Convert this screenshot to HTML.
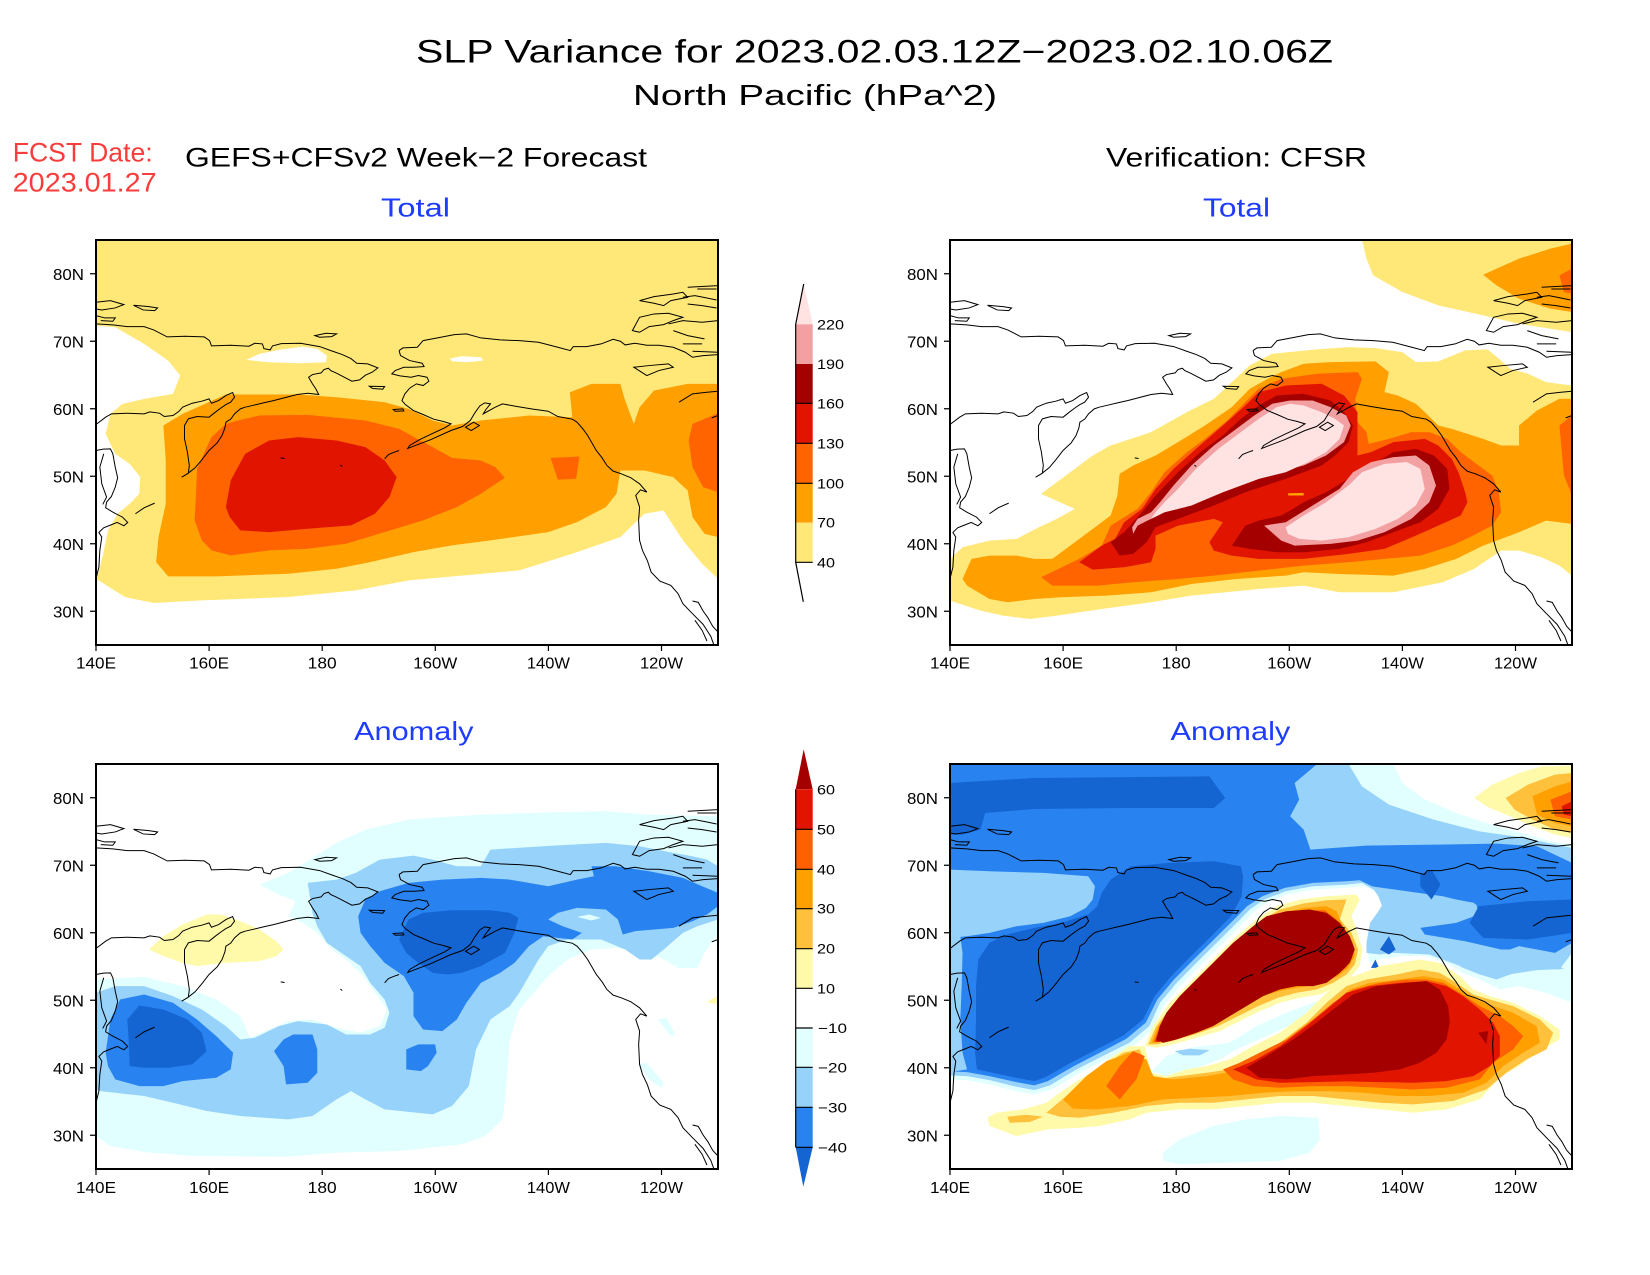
<!DOCTYPE html>
<html><head><meta charset="utf-8"><style>
html,body{margin:0;padding:0;background:#fff;}
svg{display:block;}
text{font-family:"Liberation Sans",sans-serif;}
</style></head><body>
<svg width="1650" height="1275" viewBox="0 0 1650 1275" xmlns="http://www.w3.org/2000/svg" xmlns:xlink="http://www.w3.org/1999/xlink">
<defs>
<g id="coast" fill="none" stroke="#000">
<path vector-effect="non-scaling-stroke" d="M200,310 L235,313 L265,318 L300,318 L320,328 L348,349 L385,347 L425,349 L436,360 L440,376 L480,374 L518,377 L530,368 L546,370 L549,384 L562,388 L567,376 L585,369 L625,368 L665,378 L692,392 L712,402 L730,414 L742,428 L765,430 L786,442 L774,455 L760,464 L748,478 L732,482 L716,470 L700,458 L688,450 L683,443 L674,447 L668,457 L650,462 L642,470 L650,490 L657,505 L663,522 L640,518 L618,522 L596,530 L570,540 L548,547 L528,554 L510,560"/>
<path vector-effect="non-scaling-stroke" d="M200,612 L220,590 L232,580 L265,578 L300,580 L312,574 L332,578 L342,588 L360,585 L372,573 L380,560 L400,548 L420,542 L435,535 L440,548 L455,540 L470,525 L484,516 L488,530 L480,545 L470,552 L460,562 L448,575 L435,590 L410,588 L392,595 L384,615 L384,655 L390,695 L394,735 L392,758 L378,770 L390,760 L406,742 L420,718 L435,690 L452,667 L462,645 L468,622 L470,605 L480,596 L488,580 L500,565 L510,560"/>
<path vector-effect="non-scaling-stroke" d="M200,690 L215,686 L230,685 L235,700 L240,740 L245,772 L240,800 L232,828 L222,845 L220,862 L236,876 L255,890 L266,906 L258,916 L244,906 L230,914 L216,922 L206,936 L212,950 L208,990 L206,1040 L200,1075"/>
<path vector-effect="non-scaling-stroke" d="M216,700 L208,740 L212,790 L222,830 L214,852"/>
<path vector-effect="non-scaling-stroke" d="M282,880 L300,862 L322,848"/>
<path vector-effect="non-scaling-stroke" d="M800,715 L808,702 L820,695 L830,690"/>
<path vector-effect="non-scaling-stroke" d="M584,712 L592,714 M708,734 L712,738"/>
<path vector-effect="non-scaling-stroke" d="M830,390 L838,382 L868,380 L880,360 L910,352 L945,342 L970,340 L1000,352 L1040,358 L1080,360 L1120,365 L1160,380 L1186,390 L1192,378 L1220,378 L1250,370 L1275,356 L1290,362 L1300,373 L1320,368 L1345,374 L1370,374 L1400,380 L1425,395 L1440,410 L1462,405 L1493,402"/>
<path vector-effect="non-scaling-stroke" d="M830,390 L833,405 L852,420 L878,428 L882,438 L860,440 L840,440 L822,450 L815,460 L832,466 L855,470 L870,465 L888,470 L892,482 L880,495 L866,490 L852,503 L842,520 L836,540 L843,552 L860,570 L880,582 L902,596 L922,603 L938,610 L925,622 L898,640 L872,658 L852,675 L848,684 L862,676 L895,658 L938,630 L962,618 L978,600 L988,576 L998,556 L1008,547 L1020,550 L1010,568 L1005,580 L1030,560 L1045,550 L1075,558 L1110,566 L1140,572 L1160,588 L1190,596 L1200,605 L1212,625 L1222,645 L1230,665 L1240,690 L1252,712 L1262,735 L1275,752 L1292,760 L1312,772 L1330,790 L1345,815 L1332,808 L1322,825 L1330,860 L1328,900 L1330,960 L1336,990 L1346,1020 L1354,1055 L1372,1082 L1395,1095 L1410,1120 L1420,1150 L1440,1180 L1462,1212 L1478,1248 L1484,1272"/>
<path vector-effect="non-scaling-stroke" d="M1440,1142 L1452,1146 L1462,1172 L1472,1192 L1482,1218 L1493,1235 M1445,1200 L1460,1230 L1470,1262"/>
<path vector-effect="non-scaling-stroke" d="M768,497 L800,498 L796,506 L775,504 Z M818,567 L838,565 L840,571 L822,572 Z M968,620 L985,605 L997,615 L980,630 Z M655,345 L678,338 L700,340 L690,348 L665,350 Z"/>
<path vector-effect="non-scaling-stroke" d="M1330,240 L1360,228 L1400,220 L1420,215 L1430,230 L1395,240 L1380,255 L1360,248 Z M1420,230 L1445,225 L1470,232 L1490,238 M1430,250 L1460,255 L1490,262 M1450,205 L1490,205 M1430,200 L1493,195"/>
<path vector-effect="non-scaling-stroke" d="M1315,330 L1330,290 L1360,280 L1390,278 L1420,290 L1400,300 L1380,312 L1350,318 L1330,335 Z M1390,310 L1420,300 L1460,305 L1493,300 M1400,330 L1430,345 L1465,355 M1420,370 L1460,370 M1440,392 L1493,395"/>
<path vector-effect="non-scaling-stroke" d="M1318,440 L1350,435 L1390,430 L1400,440 L1370,450 L1345,465 Z M1412,545 L1440,520 L1470,515 L1493,512 M1480,592 L1493,585"/>
<path vector-effect="non-scaling-stroke" d="M200,245 L230,240 L258,252 L240,262 L212,268 L200,265 M278,254 L310,258 L328,262 L322,270 L298,268 Z M200,285 L218,292 L240,292 L235,302 L210,300"/>
</g>
</defs>
<rect width="1650" height="1275" fill="#fff"/>

<!-- ============ P1 Forecast Total ============ -->
<svg x="96" y="240" width="622" height="405" viewBox="200 58 1293 1216" preserveAspectRatio="none">
<rect x="200" y="58" width="1293" height="1216" fill="#fff"/>
<polygon fill="#ffe878" points="200,58 1493,58 1493,1075 1460,1030 1420,960 1380,870 1340,880 1290,950 1190,1000 1080,1050 850,1080 740,1110 600,1130 420,1140 320,1148 260,1130 200,1075"/>
<polygon fill="#fff" points="200,315 240,320 300,370 350,420 375,465 360,520 300,535 255,550 230,580 220,640 240,700 270,730 292,770 290,820 270,850 245,880 225,930 215,1000 205,1060 200,1070"/>
<polygon fill="#fff" points="512,418 540,400 580,388 630,378 660,385 680,405 678,425 620,428 560,425"/>
<polygon fill="#fff" points="935,414 960,407 1000,410 1005,420 970,425 940,422"/>
<polygon fill="#ffa000" points="340,615 380,580 470,522 620,522 700,530 800,545 850,565 900,600 940,615 1000,600 1100,585 1190,590 1185,515 1230,490 1290,490 1300,540 1318,610 1330,560 1360,510 1430,490 1493,490 1493,950 1465,940 1440,890 1430,810 1400,770 1340,750 1290,750 1282,820 1260,860 1200,905 1140,935 1020,960 940,975 860,995 770,1025 700,1045 600,1060 450,1068 350,1068 325,1025 330,950 345,850 345,720"/>
<polygon fill="#ff6400" points="410,745 440,650 470,610 500,598 540,585 640,583 760,600 830,625 900,680 940,712 1000,720 1030,740 1050,772 1000,820 950,860 880,900 800,935 720,970 640,985 560,990 480,1005 440,990 420,960 405,900 408,820"/>
<polygon fill="#ff6400" points="1440,610 1493,578 1493,815 1462,800 1440,740 1432,660"/>
<polygon fill="#ff6400" points="1145,712 1205,708 1198,775 1160,778"/>
<polygon fill="#e11400" points="470,860 480,780 510,700 560,660 620,650 700,660 760,680 800,720 825,770 810,830 780,880 730,915 640,925 560,935 500,930 478,890"/>
</svg>
<svg x="96" y="240" width="622" height="405" viewBox="200 58 1293 1216" preserveAspectRatio="none"><use xlink:href="#coast"/></svg>
<rect x="96" y="240" width="622" height="405" fill="none" stroke="#000" stroke-width="2"/>

<!-- ============ P2 Verification Total ============ -->
<svg x="950" y="240" width="622" height="405" viewBox="112 44 1386 1214" preserveAspectRatio="none">
<rect x="112" y="44" width="1386" height="1214" fill="#fff"/>
<polygon fill="#ffe878" points="1030,44 1498,44 1498,320 1450,310 1380,295 1300,270 1200,240 1120,200 1055,150 1040,100"/>
<polygon fill="#ffe878" points="112,1000 140,965 200,945 260,940 310,905 350,880 390,850 315,805 360,760 430,690 470,660 560,620 640,560 700,520 740,470 780,420 830,385 930,372 1000,365 1060,368 1120,380 1150,410 1200,408 1260,375 1310,372 1335,400 1360,430 1400,445 1440,470 1498,480 1498,1050 1470,1020 1430,995 1380,975 1340,975 1280,1030 1210,1070 1100,1100 980,1100 900,1080 800,1090 650,1110 560,1130 450,1150 350,1170 290,1180 230,1170 180,1155 112,1125"/>
<polygon fill="#ffa000" points="140,1060 160,1000 200,990 260,990 300,1000 340,1000 380,960 420,920 470,870 485,810 490,745 520,720 570,690 620,650 680,600 740,545 780,490 820,460 850,440 900,415 960,410 1060,408 1090,440 1080,500 1110,510 1150,535 1170,560 1200,600 1230,610 1300,640 1340,660 1380,660 1380,600 1420,555 1470,520 1498,520 1498,895 1440,885 1380,920 1300,960 1240,1000 1170,1030 1100,1050 980,1045 900,1040 860,1050 750,1060 650,1075 560,1100 460,1110 360,1115 300,1120 240,1130 200,1120 150,1080"/>
<polygon fill="#ffa000" points="1300,148 1380,100 1450,70 1498,55 1498,260 1450,250 1380,220 1330,180"/>
<polygon fill="#ff6400" points="315,1055 400,1000 450,960 470,900 530,850 560,800 590,740 640,680 680,640 730,585 770,530 800,490 850,460 930,445 1020,440 1030,460 1015,520 1020,590 1040,620 1045,655 1090,640 1140,620 1180,620 1220,640 1250,680 1290,720 1320,750 1335,800 1340,860 1320,900 1270,935 1230,960 1160,990 1080,1000 1000,1010 900,1020 800,1035 700,1050 620,1060 520,1070 440,1080 340,1080"/>
<polygon fill="#ff6400" points="1470,600 1498,570 1498,810 1480,750"/>
<polygon fill="#ff6400" points="1470,150 1498,130 1498,205 1480,200"/>
<polygon fill="#e11400" points="400,1010 450,960 480,940 500,890 540,850 570,790 610,730 660,670 720,600 770,540 800,500 860,480 940,475 990,510 1020,560 1020,620 1020,690 1050,680 1100,650 1170,640 1200,660 1230,700 1245,740 1260,800 1265,830 1250,870 1200,900 1150,930 1080,970 1000,985 900,1000 800,1000 740,990 700,975 690,950 720,890 700,880 620,900 570,930 570,970 560,1010 500,1025 430,1032"/>
<polygon fill="#a50000" points="470,950 490,990 520,985 550,950 570,905 620,880 700,840 770,800 860,760 900,740 940,720 970,690 1000,650 1010,600 990,560 960,525 900,505 840,510 800,540 760,580 720,630 670,680 620,740 570,810 540,860 500,920"/>
<polygon fill="#a50000" points="740,960 770,900 800,885 850,870 870,855 900,830 950,800 1000,760 1050,720 1100,680 1150,670 1190,690 1220,730 1225,790 1200,850 1160,890 1100,920 1040,950 980,970 900,980 840,980 780,970"/>
<polygon fill="#f2a0a2" points="520,925 530,900 560,880 590,860 650,840 700,810 780,770 840,740 900,720 950,690 990,650 1005,600 995,570 960,545 920,525 870,525 830,535 790,570 750,610 700,660 650,720 610,780 580,830 560,860 530,880 518,905"/>
<polygon fill="#f2a0a2" points="812,900 860,890 920,840 980,790 1010,740 1050,710 1100,695 1150,690 1180,720 1195,780 1180,830 1140,880 1080,920 1020,945 960,955 880,960 850,945"/>
<polygon fill="#ffe2e2" points="560,880 590,860 650,840 720,800 800,760 860,740 910,710 950,680 980,640 990,600 970,580 940,560 900,540 870,535 840,545 800,580 760,620 710,670 660,730 620,790 590,830 570,860"/>
<polygon fill="#ffe2e2" points="860,905 900,870 950,830 1000,780 1030,740 1080,715 1130,710 1160,730 1170,790 1150,840 1110,880 1060,910 1000,935 940,945 890,940 865,925"/>
<polygon fill="#ffa000" points="865,803 900,802 900,810 866,810"/>
</svg>
<svg x="950" y="240" width="622" height="405" viewBox="200 58 1293 1216" preserveAspectRatio="none"><use xlink:href="#coast"/></svg>
<rect x="950" y="240" width="622" height="405" fill="none" stroke="#000" stroke-width="2"/>

<!-- ============ P3 Forecast Anomaly ============ -->
<svg x="96" y="764" width="622" height="405" viewBox="200 133 1293 1216" preserveAspectRatio="none">
<rect x="200" y="133" width="1293" height="1216" fill="#fff"/>
<polygon fill="#e1ffff" points="200,780 300,772 380,800 450,840 500,890 520,955 560,930 600,905 650,900 700,925 750,940 790,920 805,870 780,820 755,770 720,720 690,690 660,640 630,610 600,590 615,545 580,525 540,495 600,460 650,415 700,370 760,330 850,300 1000,285 1150,278 1260,275 1350,285 1493,290 1493,640 1465,700 1450,745 1410,745 1380,720 1340,695 1280,685 1230,690 1180,720 1140,770 1110,820 1080,870 1060,960 1055,1060 1050,1150 1045,1200 1010,1250 960,1275 830,1295 700,1300 600,1312 400,1310 300,1298 230,1280 200,1250"/>
<polygon fill="#e1ffff" points="1368,900 1385,895 1405,945 1395,950"/>
<polygon fill="#e1ffff" points="1328,1035 1345,1030 1380,1090 1375,1105 1350,1080"/>
<polygon fill="#96d2fa" points="200,820 240,800 300,800 360,830 420,870 470,920 500,960 530,955 580,920 620,905 680,915 720,945 770,945 800,925 810,880 800,840 770,790 750,740 710,700 680,670 660,620 650,580 640,490 700,480 740,460 790,420 860,408 900,420 950,440 1000,440 1020,390 1150,378 1260,370 1330,380 1400,400 1440,410 1470,420 1493,440 1493,600 1450,620 1420,640 1380,690 1355,720 1330,720 1300,690 1250,660 1180,660 1140,680 1120,720 1100,770 1080,820 1060,860 1020,900 990,990 975,1100 940,1160 900,1185 800,1170 760,1140 730,1115 700,1140 650,1190 600,1200 500,1190 430,1175 360,1150 300,1130 240,1120 210,1115 200,1110"/>
<polygon fill="#2882f0" points="220,1000 230,900 250,840 300,825 360,850 410,900 450,950 485,1000 480,1050 450,1075 380,1085 340,1100 290,1100 240,1080 225,1040"/>
<polygon fill="#2882f0" points="570,995 590,960 610,945 650,945 660,990 660,1060 640,1090 595,1095 590,1040"/>
<polygon fill="#2882f0" points="845,990 870,975 905,975 908,1000 890,1040 875,1055 845,1050"/>
<polygon fill="#2882f0" points="745,590 760,540 790,515 850,490 920,480 1000,475 1060,480 1100,490 1140,500 1200,480 1235,470 1230,440 1280,440 1350,455 1420,475 1460,500 1493,520 1493,560 1470,585 1440,605 1400,625 1360,630 1320,635 1295,645 1285,600 1260,570 1200,565 1160,580 1140,600 1170,620 1210,640 1190,660 1130,650 1100,680 1070,730 1040,760 1000,790 970,850 950,900 920,935 880,930 860,890 860,820 840,770 800,730 770,680 750,640"/>
<polygon fill="#e1ffff" points="1200,592 1225,585 1250,595 1230,603"/>
<polygon fill="#1464d2" points="265,900 290,858 340,870 390,900 420,940 430,995 400,1035 350,1045 300,1045 270,1040 268,960"/>
<polygon fill="#1464d2" points="830,660 850,600 880,580 940,572 1020,572 1060,580 1078,595 1070,640 1050,700 1000,740 960,760 930,765 900,760 870,730 845,700"/>
<polygon fill="#fffaaa" points="310,690 340,650 380,615 430,585 460,585 500,605 540,630 575,665 590,690 575,710 540,725 470,730 410,740 380,730 340,710"/>
<polygon fill="#fffaaa" points="1470,848 1493,828 1493,855"/>
</svg>
<svg x="96" y="764" width="622" height="405" viewBox="200 58 1293 1216" preserveAspectRatio="none"><use xlink:href="#coast"/></svg>
<rect x="96" y="764" width="622" height="405" fill="none" stroke="#000" stroke-width="2"/>

<!-- ============ P4 Verification Anomaly ============ -->
<svg x="950" y="764" width="622" height="405" viewBox="112 133 1386 1216" preserveAspectRatio="none">
<rect x="112" y="133" width="1386" height="1216" fill="#fff"/>
<polygon fill="#e1ffff" points="112,133 1100,133 1120,190 1170,240 1250,285 1330,320 1400,345 1450,365 1498,375 1498,850 1440,820 1380,800 1337,810 1293,780 1255,760 1218,730 1174,710 1114,710 1070,720 1047,730 1040,680 1055,610 1085,560 1070,520 1033,500 995,505 921,510 862,525 817,550 787,580 758,620 713,680 668,740 624,800 587,860 564,930 520,980 475,1010 401,1060 340,1110 300,1125 260,1115 200,1095 150,1082 112,1080"/>
<polygon fill="#96d2fa" points="112,133 1000,133 1030,200 1090,255 1190,300 1290,335 1380,352 1498,385 1498,700 1470,750 1400,745 1330,780 1293,765 1255,745 1218,715 1174,697 1114,697 1070,705 1040,700 1040,670 1048,610 1075,560 1062,515 1030,490 995,495 921,500 860,515 812,540 780,570 751,610 706,670 661,730 617,790 580,850 556,920 512,970 467,1000 394,1050 335,1098 300,1112 260,1102 200,1082 150,1070 112,1068"/>
<polygon fill="#2882f0" points="112,133 930,133 880,190 890,240 870,290 900,330 915,390 1040,378 1200,375 1330,372 1420,380 1498,430 1498,670 1460,700 1420,690 1380,680 1340,700 1300,720 1270,700 1220,670 1160,640 1160,620 1230,610 1290,580 1280,550 1200,530 1130,520 1060,505 1025,482 995,485 921,490 858,505 808,530 774,560 745,600 700,660 655,720 611,780 574,840 548,910 505,958 460,990 388,1040 330,1085 300,1098 260,1088 200,1070 150,1058 112,1056"/>
<polygon fill="#96d2fa" points="112,450 200,455 320,460 420,470 435,500 430,540 415,565 380,590 320,610 260,620 200,640 150,650 112,655"/>
<polygon fill="#96d2fa" points="112,655 135,650 140,700 138,800 135,900 140,1000 150,1050 112,1058"/>
<polygon fill="#96d2fa" points="1050,500 1130,515 1210,530 1285,555 1290,585 1240,610 1160,625 1170,645 1260,665 1340,690 1400,690 1480,748 1420,752 1330,770 1260,745 1180,705 1100,700 1050,695 1045,640 1060,590 1078,550"/>
<polygon fill="#1464d2" points="112,190 300,175 690,170 725,235 700,265 500,265 300,268 190,280 180,330 140,345 112,345"/>
<polygon fill="#1464d2" points="515,440 600,430 700,425 760,440 765,470 762,530 738,590 694,650 649,710 605,770 568,830 542,900 498,948 453,980 381,1030 325,1073 300,1085 260,1075 200,1058 172,1050 168,1000 170,900 170,800 175,720 200,670 240,645 300,625 360,610 420,585 440,560 450,520 470,480"/>
<polygon fill="#1464d2" points="1290,560 1400,545 1498,540 1498,640 1400,660 1300,655 1270,610"/>
<polygon fill="#1464d2" points="1160,465 1185,450 1205,495 1185,540 1160,500"/>
<polygon fill="#1464d2" points="1070,690 1090,650 1105,690 1090,705"/>
<polygon fill="#1464d2" points="1050,745 1060,720 1068,745"/>
<!-- top right warm -->
<polygon fill="#fffaaa" points="1280,235 1320,195 1380,160 1430,140 1498,138 1498,355 1460,345 1410,320 1360,290 1310,262"/>
<polygon fill="#ffc03c" points="1350,235 1400,195 1460,165 1498,160 1498,340 1460,330 1410,300 1370,270"/>
<polygon fill="#ffa000" points="1410,230 1460,200 1498,185 1498,320 1460,310 1420,285"/>
<polygon fill="#ff6000" points="1450,240 1498,215 1498,300 1460,290"/>
<polygon fill="#e11400" points="1475,260 1498,245 1498,290 1480,285"/>
<g transform="translate(401,480) scale(0.743,1)">
<polygon fill="#e1ffff" points="250,820 300,780 400,740 500,720 600,710 715,715 720,780 690,820 600,845 450,850 300,855 250,845"/>
<polygon fill="#e1ffff" points="215,575 260,530 330,505 450,490 530,440 620,400 700,370 740,360 720,395 650,430 560,470 470,510 420,540 340,570 260,590"/>
<polygon fill="#96d2fa" points="285,515 330,508 390,512 360,528 310,528"/>
<!-- lower lobe -->
<polygon fill="#fffaaa" points="-277,715 -250,700 -170,690 -100,670 -60,640 0,600 50,570 100,530 150,500 195,500 210,560 215,580 260,590 320,570 380,560 450,540 520,500 600,460 680,400 740,340 790,300 850,280 900,260 960,250 1020,240 1080,250 1140,290 1180,330 1230,350 1300,370 1380,410 1439,450 1439,480 1371,520 1318,560 1264,590 1200,660 1100,690 1000,700 900,690 800,680 700,670 600,670 500,680 400,690 300,690 200,700 150,720 60,740 0,745 -95,750 -190,770 -270,740"/>
<polygon fill="#ffc03c" points="-217,712 -160,706 -110,712 -150,728 -210,730"/>
<polygon fill="#ffc03c" points="-100,700 -40,650 20,600 70,560 130,520 180,510 200,560 230,600 300,590 380,580 450,570 520,530 600,490 680,430 740,370 800,320 860,300 950,285 1020,270 1080,280 1130,310 1180,345 1230,360 1300,380 1380,420 1420,460 1400,510 1340,540 1280,580 1220,630 1120,665 1000,675 900,670 800,660 700,650 600,650 500,660 400,670 300,670 200,680 100,700 0,715 -60,712"/>
<polygon fill="#ffa000" points="-50,660 20,590 80,545 150,520 200,540 220,590 280,600 380,590 440,580 520,540 600,500 680,440 750,380 810,330 870,310 960,300 1030,290 1090,300 1140,330 1190,360 1240,380 1300,400 1370,440 1380,490 1330,520 1270,560 1220,610 1150,640 1050,650 950,650 850,640 750,635 650,635 550,640 450,650 350,655 250,660 150,680 50,690 -20,688"/>
<polygon fill="#ff6000" points="430,570 480,550 560,510 620,480 700,420 760,370 820,330 900,310 980,300 1040,300 1090,310 1140,340 1200,380 1260,410 1300,440 1330,470 1300,510 1240,550 1200,600 1100,625 1000,630 900,625 800,620 700,620 600,625 520,620 460,600"/>
<polygon fill="#ff6000" points="80,620 120,560 160,515 195,530 170,600 120,660"/>
<polygon fill="#e11400" points="460,570 520,545 600,500 680,440 740,390 800,340 870,320 960,310 1040,305 1100,320 1150,350 1200,390 1240,430 1260,470 1260,530 1230,560 1180,590 1100,605 1000,610 900,608 800,606 700,608 600,610 530,600"/>
<polygon fill="#a50000" points="500,565 560,530 640,480 710,430 760,390 820,345 890,320 980,310 1040,305 1080,330 1105,380 1110,430 1100,480 1070,520 1020,550 960,570 880,580 800,585 700,590 620,600 540,595"/>
<polygon fill="#a50000" points="1195,460 1225,455 1220,495"/>
<!-- upper lobe -->
<polygon fill="#fffaaa" points="195,500 220,440 270,370 330,310 400,240 470,170 530,120 590,80 660,60 740,50 830,45 840,60 815,110 830,150 848,210 840,260 815,290 775,320 720,345 660,355 600,370 540,395 480,425 420,455 350,475 280,495 230,505"/>
<polygon fill="#ffc03c" points="205,495 230,440 280,375 340,315 410,245 480,175 540,125 600,90 670,72 740,62 800,60 780,120 815,160 835,210 825,255 800,285 760,310 710,330 650,340 595,355 535,380 475,410 415,440 345,465 275,485 230,495"/>
<polygon fill="#ffa000" points="215,490 235,440 285,380 345,322 415,252 485,185 545,135 605,100 675,85 740,80 770,95 790,140 820,190 825,230 805,265 775,290 730,310 680,320 620,330 560,345 510,370 460,400 400,430 340,455 275,478 230,490"/>
<polygon fill="#ff6000" points="222,488 240,440 290,385 350,328 420,258 490,192 550,142 610,108 678,93 735,92 770,120 800,160 818,200 818,235 798,265 768,288 725,305 675,313 618,323 558,338 505,362 455,392 395,422 335,448 272,472 232,486"/>
<polygon fill="#e11400" points="226,486 242,440 294,390 355,334 425,264 494,198 555,148 614,114 682,98 730,98 772,128 804,168 820,208 814,240 792,268 762,290 720,306 670,314 612,326 553,342 502,368 452,398 392,428 332,452 270,476 236,488"/>
<polygon fill="#a50000" points="230,480 240,440 260,400 300,350 350,300 400,250 460,190 520,140 560,110 620,95 690,90 740,100 780,130 810,170 825,210 810,250 780,280 740,310 700,320 650,320 600,330 550,350 500,380 450,410 400,440 350,460 290,480 250,490"/>
</g>
</svg>
<svg x="950" y="764" width="622" height="405" viewBox="200 58 1293 1216" preserveAspectRatio="none"><use xlink:href="#coast"/></svg>
<rect x="950" y="764" width="622" height="405" fill="none" stroke="#000" stroke-width="2"/>

<!-- ============ Axes ticks & labels ============ -->
<g stroke="#000" stroke-width="1.2">
<path d="M90,273.75H96M90,341.25H96M90,408.75H96M90,476.25H96M90,543.75H96M90,611.25H96"/>
<path d="M944,273.75H950M944,341.25H950M944,408.75H950M944,476.25H950M944,543.75H950M944,611.25H950"/>
<path d="M90,797.75H96M90,865.25H96M90,932.75H96M90,1000.25H96M90,1067.75H96M90,1135.25H96"/>
<path d="M944,797.75H950M944,865.25H950M944,932.75H950M944,1000.25H950M944,1067.75H950M944,1135.25H950"/>
<path d="M96,645V651M209.1,645V651M322.2,645V651M435.3,645V651M548.4,645V651M661.5,645V651"/>
<path d="M950,645V651M1063.1,645V651M1176.2,645V651M1289.3,645V651M1402.4,645V651M1515.5,645V651"/>
<path d="M96,1169V1175M209.1,1169V1175M322.2,1169V1175M435.3,1169V1175M548.4,1169V1175M661.5,1169V1175"/>
<path d="M950,1169V1175M1063.1,1169V1175M1176.2,1169V1175M1289.3,1169V1175M1402.4,1169V1175M1515.5,1169V1175"/>
</g>
<g font-size="16" fill="#000" text-anchor="end">
<text x="84" y="279.8" textLength="31" lengthAdjust="spacingAndGlyphs">80N</text>
<text x="84" y="347.3" textLength="31" lengthAdjust="spacingAndGlyphs">70N</text>
<text x="84" y="414.8" textLength="31" lengthAdjust="spacingAndGlyphs">60N</text>
<text x="84" y="482.3" textLength="31" lengthAdjust="spacingAndGlyphs">50N</text>
<text x="84" y="549.8" textLength="31" lengthAdjust="spacingAndGlyphs">40N</text>
<text x="84" y="617.3" textLength="31" lengthAdjust="spacingAndGlyphs">30N</text>
<text x="938" y="279.8" textLength="31" lengthAdjust="spacingAndGlyphs">80N</text>
<text x="938" y="347.3" textLength="31" lengthAdjust="spacingAndGlyphs">70N</text>
<text x="938" y="414.8" textLength="31" lengthAdjust="spacingAndGlyphs">60N</text>
<text x="938" y="482.3" textLength="31" lengthAdjust="spacingAndGlyphs">50N</text>
<text x="938" y="549.8" textLength="31" lengthAdjust="spacingAndGlyphs">40N</text>
<text x="938" y="617.3" textLength="31" lengthAdjust="spacingAndGlyphs">30N</text>
<text x="84" y="803.8" textLength="31" lengthAdjust="spacingAndGlyphs">80N</text>
<text x="84" y="871.3" textLength="31" lengthAdjust="spacingAndGlyphs">70N</text>
<text x="84" y="938.8" textLength="31" lengthAdjust="spacingAndGlyphs">60N</text>
<text x="84" y="1006.3" textLength="31" lengthAdjust="spacingAndGlyphs">50N</text>
<text x="84" y="1073.8" textLength="31" lengthAdjust="spacingAndGlyphs">40N</text>
<text x="84" y="1141.3" textLength="31" lengthAdjust="spacingAndGlyphs">30N</text>
<text x="938" y="803.8" textLength="31" lengthAdjust="spacingAndGlyphs">80N</text>
<text x="938" y="871.3" textLength="31" lengthAdjust="spacingAndGlyphs">70N</text>
<text x="938" y="938.8" textLength="31" lengthAdjust="spacingAndGlyphs">60N</text>
<text x="938" y="1006.3" textLength="31" lengthAdjust="spacingAndGlyphs">50N</text>
<text x="938" y="1073.8" textLength="31" lengthAdjust="spacingAndGlyphs">40N</text>
<text x="938" y="1141.3" textLength="31" lengthAdjust="spacingAndGlyphs">30N</text>
</g>
<g font-size="16" fill="#000" text-anchor="middle">
<text x="96" y="668.3" textLength="40" lengthAdjust="spacingAndGlyphs">140E</text>
<text x="209.1" y="668.3" textLength="40" lengthAdjust="spacingAndGlyphs">160E</text>
<text x="322.2" y="668.3" textLength="29" lengthAdjust="spacingAndGlyphs">180</text>
<text x="435.3" y="668.3" textLength="44" lengthAdjust="spacingAndGlyphs">160W</text>
<text x="548.4" y="668.3" textLength="43" lengthAdjust="spacingAndGlyphs">140W</text>
<text x="661.5" y="668.3" textLength="43" lengthAdjust="spacingAndGlyphs">120W</text>
<text x="950" y="668.3" textLength="40" lengthAdjust="spacingAndGlyphs">140E</text>
<text x="1063.1" y="668.3" textLength="40" lengthAdjust="spacingAndGlyphs">160E</text>
<text x="1176.2" y="668.3" textLength="29" lengthAdjust="spacingAndGlyphs">180</text>
<text x="1289.3" y="668.3" textLength="44" lengthAdjust="spacingAndGlyphs">160W</text>
<text x="1402.4" y="668.3" textLength="43" lengthAdjust="spacingAndGlyphs">140W</text>
<text x="1515.5" y="668.3" textLength="43" lengthAdjust="spacingAndGlyphs">120W</text>
<text x="96" y="1192.8" textLength="40" lengthAdjust="spacingAndGlyphs">140E</text>
<text x="209.1" y="1192.8" textLength="40" lengthAdjust="spacingAndGlyphs">160E</text>
<text x="322.2" y="1192.8" textLength="29" lengthAdjust="spacingAndGlyphs">180</text>
<text x="435.3" y="1192.8" textLength="44" lengthAdjust="spacingAndGlyphs">160W</text>
<text x="548.4" y="1192.8" textLength="43" lengthAdjust="spacingAndGlyphs">140W</text>
<text x="661.5" y="1192.8" textLength="43" lengthAdjust="spacingAndGlyphs">120W</text>
<text x="950" y="1192.8" textLength="40" lengthAdjust="spacingAndGlyphs">140E</text>
<text x="1063.1" y="1192.8" textLength="40" lengthAdjust="spacingAndGlyphs">160E</text>
<text x="1176.2" y="1192.8" textLength="29" lengthAdjust="spacingAndGlyphs">180</text>
<text x="1289.3" y="1192.8" textLength="44" lengthAdjust="spacingAndGlyphs">160W</text>
<text x="1402.4" y="1192.8" textLength="43" lengthAdjust="spacingAndGlyphs">140W</text>
<text x="1515.5" y="1192.8" textLength="43" lengthAdjust="spacingAndGlyphs">120W</text>
</g>

<!-- ============ Colorbar top ============ -->
<polygon fill="#ffe2e2" points="795.7,324.3 803.7,284 812.7,324.3"/>
<rect x="795.7" y="324.3" width="17" height="39.7" fill="#f2a0a2"/>
<rect x="795.7" y="364" width="17" height="39.3" fill="#a50000"/>
<rect x="795.7" y="403.3" width="17" height="40" fill="#e11400"/>
<rect x="795.7" y="443.3" width="17" height="40" fill="#ff6400"/>
<rect x="795.7" y="483.3" width="17" height="39.4" fill="#ffa000"/>
<rect x="795.7" y="522.7" width="17" height="39.6" fill="#ffe878"/>
<g stroke="#000" stroke-width="1.2" fill="none">
<path d="M803.7,284 L795.7,324.3 V562.3 L803.3,601.7"/>
<path d="M795.7,403.3H812.7M795.7,443.3H812.7M795.7,483.3H812.7M795.7,562.3H812.7"/>
</g>
<g font-size="14" fill="#000">
<text x="817" y="329.3" textLength="27" lengthAdjust="spacingAndGlyphs">220</text>
<text x="817" y="369" textLength="27" lengthAdjust="spacingAndGlyphs">190</text>
<text x="817" y="408.3" textLength="27" lengthAdjust="spacingAndGlyphs">160</text>
<text x="817" y="448.3" textLength="27" lengthAdjust="spacingAndGlyphs">130</text>
<text x="817" y="488.3" textLength="27" lengthAdjust="spacingAndGlyphs">100</text>
<text x="817" y="527.7" textLength="18" lengthAdjust="spacingAndGlyphs">70</text>
<text x="817" y="567.3" textLength="18" lengthAdjust="spacingAndGlyphs">40</text>
</g>

<!-- ============ Colorbar bottom ============ -->
<polygon fill="#a50000" points="795.7,789.3 803.7,749.3 812.7,789.3"/>
<rect x="795.7" y="789.3" width="17" height="40" fill="#e11400"/>
<rect x="795.7" y="829.3" width="17" height="40" fill="#ff6000"/>
<rect x="795.7" y="869.3" width="17" height="39.4" fill="#ffa000"/>
<rect x="795.7" y="908.7" width="17" height="40" fill="#ffc03c"/>
<rect x="795.7" y="948.7" width="17" height="39.6" fill="#fffaaa"/>
<rect x="795.7" y="1028" width="17" height="39.3" fill="#e1ffff"/>
<rect x="795.7" y="1067.3" width="17" height="40" fill="#96d2fa"/>
<rect x="795.7" y="1107.3" width="17" height="40" fill="#2882f0"/>
<polygon fill="#1464d2" points="795.7,1147.3 812.7,1147.3 803.3,1186.7"/>
<g stroke="#000" stroke-width="1.2" fill="none">
<path d="M795.7,789.3 V1147.3"/>
<path d="M795.7,829.3H812.7M795.7,869.3H812.7M795.7,908.7H812.7M795.7,948.7H812.7M795.7,988.3H812.7M795.7,1028H812.7M795.7,1067.3H812.7M795.7,1107.3H812.7M795.7,1147.3H812.7"/>
</g>
<g font-size="14" fill="#000">
<text x="817" y="794.3" textLength="18" lengthAdjust="spacingAndGlyphs">60</text>
<text x="817" y="834.3" textLength="18" lengthAdjust="spacingAndGlyphs">50</text>
<text x="817" y="874.3" textLength="18" lengthAdjust="spacingAndGlyphs">40</text>
<text x="817" y="913.7" textLength="18" lengthAdjust="spacingAndGlyphs">30</text>
<text x="817" y="953.7" textLength="18" lengthAdjust="spacingAndGlyphs">20</text>
<text x="817" y="993.3" textLength="18" lengthAdjust="spacingAndGlyphs">10</text>
<text x="818" y="1033" textLength="29" lengthAdjust="spacingAndGlyphs">−10</text>
<text x="818" y="1072.3" textLength="29" lengthAdjust="spacingAndGlyphs">−20</text>
<text x="818" y="1112.3" textLength="29" lengthAdjust="spacingAndGlyphs">−30</text>
<text x="818" y="1152.3" textLength="29" lengthAdjust="spacingAndGlyphs">−40</text>
</g>

<!-- ============ Titles ============ -->
<text x="416" y="62.7" font-size="32" fill="#000" textLength="917" lengthAdjust="spacingAndGlyphs">SLP Variance for 2023.02.03.12Z−2023.02.10.06Z</text>
<text x="633" y="105" font-size="29" fill="#000" textLength="364" lengthAdjust="spacingAndGlyphs">North Pacific (hPa^2)</text>
<text x="185" y="166.7" font-size="26.5" fill="#000" textLength="462" lengthAdjust="spacingAndGlyphs">GEFS+CFSv2 Week−2 Forecast</text>
<text x="1106" y="166.7" font-size="26.5" fill="#000" textLength="261" lengthAdjust="spacingAndGlyphs">Verification: CFSR</text>
<text x="12.7" y="161.7" font-size="27" fill="#fa3c3c" textLength="140" lengthAdjust="spacingAndGlyphs">FCST Date:</text>
<text x="12.7" y="191.7" font-size="27" fill="#fa3c3c" textLength="144" lengthAdjust="spacingAndGlyphs">2023.01.27</text>
<text x="381" y="216.7" font-size="26" fill="#1e3cff" textLength="69" lengthAdjust="spacingAndGlyphs">Total</text>
<text x="1203" y="216.7" font-size="26" fill="#1e3cff" textLength="67" lengthAdjust="spacingAndGlyphs">Total</text>
<text x="354" y="740" font-size="26" fill="#1e3cff" textLength="119.5" lengthAdjust="spacingAndGlyphs">Anomaly</text>
<text x="1170.5" y="740" font-size="26" fill="#1e3cff" textLength="119.8" lengthAdjust="spacingAndGlyphs">Anomaly</text>
</svg>
</body></html>
